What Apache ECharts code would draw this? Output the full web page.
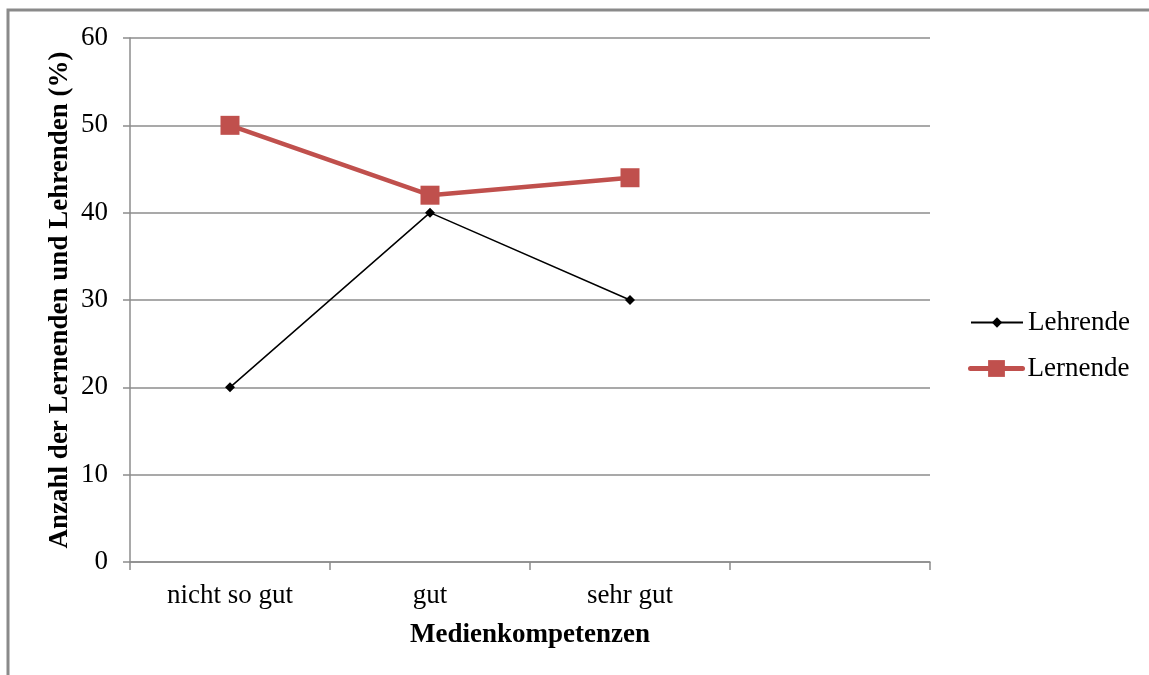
<!DOCTYPE html>
<html>
<head>
<meta charset="utf-8">
<script src="https://cdn.jsdelivr.net/npm/echarts@6/dist/echarts.min.js"></script>
<style>
  html, body { margin: 0; padding: 0; background: #fff; }
  #chart { width: 1149px; height: 675px; }
</style>
</head>
<body>
<div id="chart"></div>
<script>
// Medienkompetenzen der Lehrenden und Lernenden (Anteile in %)
const categories = ['nicht so gut', 'gut', 'sehr gut', ''];
const lehrende = [20, 40, 30];
const lernende = [50, 42, 44];
const yTicks = { min: 0, max: 60, interval: 10 };

const FONT = '"Liberation Serif", "Times New Roman", serif';
const FS = 27;
const GRID = '#8c8c8c';
const RED = '#c0504d';

const chart = echarts.init(document.getElementById('chart'), null, { renderer: 'canvas' });

const legendText = { fontFamily: FONT, fontSize: FS, color: '#000' };

chart.setOption({
  animation: false,
  backgroundColor: '#ffffff',
  textStyle: { fontFamily: FONT },
  graphic: [{
    type: 'rect',
    shape: { x: 8, y: 10, width: 1300, height: 900 },
    style: { fill: 'none', stroke: '#8a8a8a', lineWidth: 3 },
    silent: true
  }],
  grid: { left: 130, right: 219, top: 38, bottom: 113, containLabel: false },
  // one legend per series so each key keeps its own marker size
  legend: [
    {
      orient: 'vertical',
      left: 965,
      top: 304,
      itemWidth: 52,
      itemHeight: 13,
      textStyle: legendText,
      lineStyle: { width: 2 },
      data: ['Lehrende']
    },
    {
      orient: 'vertical',
      left: 963,
      top: 350,
      itemWidth: 52,
      itemHeight: 21,
      textStyle: legendText,
      lineStyle: { width: 5, cap: 'round' },
      data: ['Lernende']
    }
  ],
  xAxis: {
    type: 'category',
    data: categories,
    boundaryGap: true,
    name: 'Medienkompetenzen',
    nameLocation: 'middle',
    nameGap: 60,
    nameMoveOverlap: false,
    nameTextStyle: { fontFamily: FONT, fontSize: FS, fontWeight: 'bold', color: '#000' },
    axisLine: { lineStyle: { color: GRID, width: 1.5 } },
    axisTick: { show: true, length: 8, lineStyle: { color: GRID, width: 1.5 } },
    axisLabel: { fontFamily: FONT, fontSize: FS, color: '#000', margin: 20, interval: 0 },
    splitLine: { show: false }
  },
  yAxis: {
    type: 'value',
    min: yTicks.min,
    max: yTicks.max,
    interval: yTicks.interval,
    name: 'Anzahl der Lernenden und Lehrenden (%)',
    nameLocation: 'middle',
    nameGap: 56,
    nameMoveOverlap: false,
    nameTextStyle: { fontFamily: FONT, fontSize: FS, fontWeight: 'bold', color: '#000' },
    axisLine: { show: true, lineStyle: { color: GRID, width: 1.5 } },
    axisTick: { show: true, length: 7, lineStyle: { color: GRID, width: 1.5 } },
    axisLabel: { fontFamily: FONT, fontSize: FS, color: '#000', margin: 22 },
    splitLine: { show: true, lineStyle: { color: GRID, width: 1.5 } }
  },
  series: [
    {
      name: 'Lehrende',
      type: 'line',
      data: lehrende,
      symbol: 'diamond',
      symbolSize: 10,
      itemStyle: { color: '#000000' },
      lineStyle: { color: '#000000', width: 1.5 },
      z: 3
    },
    {
      name: 'Lernende',
      type: 'line',
      data: lernende,
      symbol: 'rect',
      symbolSize: 19,
      itemStyle: { color: RED },
      lineStyle: { color: RED, width: 4.5 },
      z: 4
    }
  ]
});
</script>
</body>
</html>
